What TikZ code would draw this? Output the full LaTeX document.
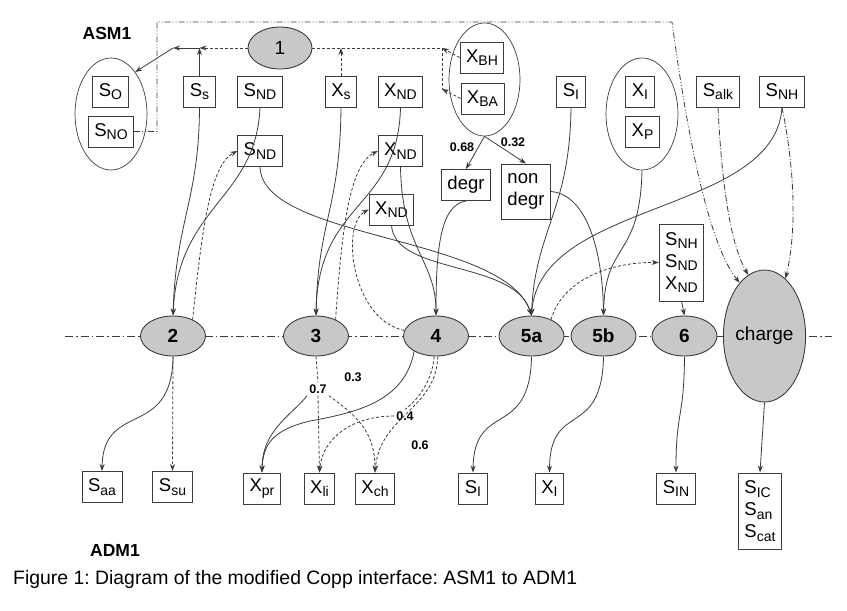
\documentclass[tikz,border=0pt]{standalone}
\usepackage{fontspec}
\setmainfont{Liberation Sans}
\usetikzlibrary{shapes.geometric,arrows.meta,positioning}

\definecolor{procgray}{RGB}{200,200,202}
\definecolor{edgegray}{RGB}{60,60,60}

\newcommand{\cvar}[2]{#1\raisebox{-3.5pt}{\fontsize{14}{14}\selectfont #2}}
\frenchspacing

\tikzset{
  var/.style={draw=edgegray, line width=0.9pt, inner xsep=6pt, inner ysep=2pt,
    minimum height=31pt, font=\fontsize{18.5}{22}\selectfont},
  proc/.style={ellipse, draw=edgegray, fill=procgray, line width=0.9pt, inner sep=0pt,
    minimum width=65pt, minimum height=40pt, font=\bfseries\fontsize{19}{22}\selectfont},
  group/.style={ellipse, draw=edgegray, line width=0.7pt, minimum width=72pt, minimum height=112pt},
  frac/.style={font=\bfseries\fontsize{12.5}{14}\selectfont, fill=white, inner sep=2pt},
  flow/.style={edgegray, line width=0.8pt, -{Stealth[length=7pt,width=5pt]}},
  dline/.style={edgegray, line width=0.8pt, dash pattern=on 3pt off 2pt},
  dflow/.style={flow, dash pattern=on 3pt off 2pt},
  ddflow/.style={flow, dash pattern=on 6pt off 2pt on 1pt off 2pt},
  dddflow/.style={flow, dash pattern=on 6pt off 2pt on 1pt off 2pt on 1pt off 2pt},
}

\begin{document}
\begin{tikzpicture}[x=1pt,y=-1pt]
\useasboundingbox (0,0) rectangle (847,611);

% process axis
\draw[edgegray, line width=0.8pt, dash pattern=on 8pt off 3pt on 1.5pt off 3pt] (65,336) -- (832,336);

\node[font=\bfseries\fontsize{17.5}{19}\selectfont] (asm) at (107,33) {ASM1};
\node[font=\bfseries\fontsize{17.5}{19}\selectfont] (adm) at (115,550) {ADM1};
\node[anchor=base west, font=\fontsize{19.4}{22}\selectfont, inner sep=0pt] (cap) at (13,584)
  {Figure 1: Diagram of the modified Copp interface: ASM1 to ADM1};

% ASM1 state variables
\node[group] (Oell) at (111,114) {};
\node[var] (SO) at (110.5,91.5) {\cvar{S}{O}};
\node[var] (SNO) at (111,131.5) {\cvar{S}{NO}};
\node[var] (Ss) at (199.5,91.5) {\cvar{S}{s}};
\node[var] (SNDa) at (260,91.5) {\cvar{S}{ND}};
\node[var] (SNDb) at (260,151) {\cvar{S}{ND}};
\node[var] (Xs) at (341,91.5) {\cvar{X}{s}};
\node[var] (XNDa) at (400.5,91.5) {\cvar{X}{ND}};
\node[var] (XNDb) at (400.5,151) {\cvar{X}{ND}};
\node[var] (XNDc) at (391.5,209.5) {\cvar{X}{ND}};
\node[group, minimum width=71pt, minimum height=113pt] (Bell) at (484.5,79.5) {};
\node[var] (XBH) at (482,57.5) {\cvar{X}{BH}};
\node[var] (XBA) at (482.5,98.5) {\cvar{X}{BA}};
\node[var] (SI) at (571,91.5) {\cvar{S}{I}};
\node[var] (degr) at (466,185) {degr};
\node[var, align=left, minimum height=55pt] (nondegr) at (526,191.5) {non\\degr};
\node[group] (Pell) at (642,114) {};
\node[var] (XI) at (640,91.5) {\cvar{X}{I}};
\node[var] (XP) at (642.5,131.5) {\cvar{X}{P}};
\node[var] (Salk) at (718,91.5) {\cvar{S}{alk}};
\node[var] (SNH) at (782,91.5) {\cvar{S}{NH}};
\node[var, align=left, minimum height=77pt] (Nmix) at (681.5,262.5) {\cvar{S}{NH}\\\cvar{S}{ND}\\\cvar{X}{ND}};

% processes
\node[proc, font=\fontsize{19}{22}\selectfont, minimum width=64pt, minimum height=42pt] (one) at (280,48) {1};
\node[proc] (two) at (173,336) {2};
\node[proc] (three) at (316,336) {3};
\node[proc] (four) at (436,336) {4};
\node[proc] (fivea) at (531.5,336) {5a};
\node[proc] (fiveb) at (603.5,336) {5b};
\node[proc] (six) at (684.5,336) {6};
\node[proc, font=\fontsize{19}{22}\selectfont, minimum height=132pt] (charge) at (764.5,336) {charge};

% ADM1 state variables
\node[var] (Saa) at (102,487) {\cvar{S}{aa}};
\node[var] (Ssu) at (172.5,487) {\cvar{S}{su}};
\node[var] (Xpr) at (262,488.5) {\cvar{X}{pr}};
\node[var] (Xli) at (319.5,488.5) {\cvar{X}{li}};
\node[var] (Xch) at (375,488.5) {\cvar{X}{ch}};
\node[var] (SIo) at (473,488.5) {\cvar{S}{I}};
\node[var] (XIo) at (549.5,488.5) {\cvar{X}{I}};
\node[var] (SIN) at (676,488.5) {\cvar{S}{IN}};
\node[var, align=left, minimum height=76pt] (Sic) at (760,511) {\cvar{S}{IC}\\\cvar{S}{an}\\\cvar{S}{cat}};

% fractions
\node[frac] (f068) at (462,147) {0.68};
\node[frac] (f032) at (513,142) {0.32};
\node[frac] (f07) at (318,389) {0.7};
\node[frac] (f03) at (353,377) {0.3};
\node[frac] (f04) at (405,416) {0.4};
\node[frac] (f06) at (420,445) {0.6};

% decay (process 1)
\coordinate (jS) at (Ss.north |- one);
\coordinate (jL) at (173,48);
\coordinate (jB) at (442,48);
\coordinate (jA) at (442,89);
\draw[flow] (Ss.north) -- (jS);
\draw[dflow] (one.west) -- (jS);
\draw[flow] (jS) -- (jL);
\draw[flow] (jL) -- (Oell.60);
\draw[dflow] (Xs.north) -- (Xs.north |- one);
\draw[dline] (one.east) -- (jB) -- (jA);
\draw[dflow] (XBH.west) -- (jB);
\draw[dflow] (XBA.west) -- (jA);
\draw[flow] (Bell.south) -- (degr.north);
\draw[flow] (Bell.south) -- (nondegr.north);

% inputs to the processes
\draw[flow] (Ss.south) .. controls (199,200) and (176,220) .. (two.north);
\draw[flow] (SNDa.south) .. controls (256,200) and (178,205) .. (two.north);
\draw[flow] (SNDb.south) .. controls (262,240) and (505,235) .. (fivea.north);
\draw[flow] (Xs.south) .. controls (340,210) and (318,220) .. (three.north);
\draw[flow] (XNDa.south) .. controls (398,210) and (318,200) .. (three.north);
\draw[flow] (XNDb.south) .. controls (402,250) and (436,260) .. (four.north);
\draw[flow] (XNDc.south) .. controls (395,275) and (515,260) .. (fivea.north);
\draw[flow] (degr.south) .. controls (440,205) and (436,250) .. (four.north);
\draw[flow] (SI.south) .. controls (570,210) and (535,230) .. (fivea.north);
\draw[flow] (SNH.south) .. controls (775,215) and (540,200) .. (fivea.north);
\draw[flow] (nondegr.east) .. controls (590,195) and (603,260) .. (fiveb.north);
\draw[flow] (Pell.south) .. controls (640,260) and (605,240) .. (fiveb.north);
\draw[flow] (Nmix.south) -- (six.north);

\draw[dflow] (two.40) .. controls (202,230) and (210,165) .. (SNDb.west);
\draw[dflow] (three.40) .. controls (342,225) and (350,165) .. (XNDb.west);
\draw[dflow] (four.170) .. controls (352,320) and (340,225) .. (XNDc.west);
\draw[dflow] (fivea.40) .. controls (562,280) and (610,262) .. (Nmix.west);

% charge balance
\draw[dddflow] (SNO.east) -- (157,131.5) -- (157,22) -- (672,22)
  .. controls (684,110) and (705,240) .. (charge.115);
\draw[ddflow] (Salk.south) .. controls (724,230) and (740,260) .. (charge.105);
\draw[ddflow] (SNH.south) .. controls (797,180) and (795,240) .. (charge.70);

% outputs to ADM1
\draw[flow] (two.south) .. controls (172,440) and (103,400) .. (Saa.north);
\draw[dflow] (two.south) -- (Ssu.north);
\draw[dline] (three.south) -- (f07.north);
\draw[flow] (f07.south west) .. controls (292,415) and (262,430) .. (Xpr.north);
\draw[dflow] (f07.south) -- (Xli.north);
\draw[dflow] (f07.south east) .. controls (355,415) and (375,430) .. (Xch.north);
\draw[flow] (four.215) .. controls (405,400) and (360,412) .. (310,421)
  .. controls (272,430) and (263,445) .. (Xpr.north);
\draw[dline] (four.265) .. controls (432,380) and (420,398) .. (f04.north);
\draw[dflow] (f04.west) .. controls (350,416) and (322,440) .. (Xli.north);
\draw[dflow] (four.275) .. controls (436,410) and (380,415) .. (Xch.north);
\draw[flow] (fivea.south) .. controls (530,440) and (474,400) .. (SIo.north);
\draw[flow] (fiveb.south) .. controls (602,440) and (550,400) .. (XIo.north);
\draw[flow] (six.south) .. controls (684,420) and (676,410) .. (SIN.north);
\draw[flow] (charge.south) -- (Sic.north);
\end{tikzpicture}
\end{document}
